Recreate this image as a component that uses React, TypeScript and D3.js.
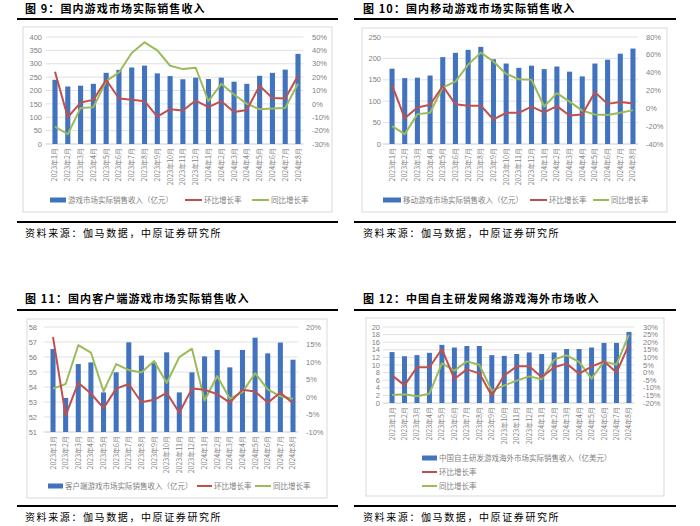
import React from 'react';
import * as d3 from 'd3';

const months = [
  '2023年1月', '2023年2月', '2023年3月', '2023年4月', '2023年5月', '2023年6月', '2023年7月',
  '2023年8月', '2023年9月', '2023年10月', '2023年11月', '2023年12月', '2024年1月', '2024年2月',
  '2024年3月', '2024年4月', '2024年5月', '2024年6月', '2024年7月', '2024年8月'
];

// 图9 国内游戏市场
const totalRevenue = [240, 215, 218, 225, 266, 277, 286, 293, 264, 254, 242, 248, 243, 248, 233, 225, 255, 266, 278, 337];
const totalMoM = [24, -10, 1, 3, 18, 4, 3, 2, -9.5, -4, -5, 2.5, -2.5, 2, -6, -4.5, 13.5, 4.3, 4, 21];
const totalYoY = [-17, -22.7, -3, -2.5, 17, 23.5, 38, 46, 40, 28.5, 26, 27, 2, 15, 7, 0, -4, -3.5, -3, 15];

// 图10 移动游戏
const mobileRevenue = [176, 154, 155, 160, 203, 213, 220, 227, 198, 188, 178, 183, 175, 181, 169, 158, 188, 197, 211, 223];
const mobileMoM = [26, -11, 1, 4, 25, 4.5, 3, 3, -12.5, -5, -5, 2, -4.5, 2.5, -8, -7, 18, 5, 7, 5.5];
const mobileYoY = [-20, -29, -6.5, -5, 23.6, 30, 49, 62.5, 52.5, 38.6, 32.6, 32, 2, 17, 7.5, -2.6, -7, -7.5, -5, -2];

// 图11 客户端游戏
const clientRevenue = [56.53, 53.27, 55.53, 55.64, 53.64, 54.98, 56.98, 56.09, 55.64, 56.31, 53.64, 54.98, 56.04, 56.47, 55.31, 56.47, 57.29, 56.24, 56.96, 55.82];
const clientMoM = [17.1, -5.3, 4.1, 1, -3.2, 2.4, 3.7, -1.5, -0.8, 1.2, -4.5, 2.4, 2.1, 0.8, -1.6, 2.1, 1.6, -1.6, 1.2, -1.8];
const clientYoY = [2.4, 3.7, 14.8, 12.7, 1.6, 9.4, 7.7, 7, 10.3, 4, 11.4, 13.8, -1, 6, -0.5, 1.4, 6.8, 2.2, 0.2, -0.5];

// 图12 自主研发海外
const overseasRevenue = [13.4, 12.3, 12.6, 13.2, 15.3, 14.6, 15.0, 15.0, 12.6, 12.4, 12.9, 13.3, 12.9, 13.3, 14.2, 14.2, 14.6, 15.8, 15.8, 18.7];
const overseasMoM = [-1.8, -8.4, 3.5, 3.5, 15.5, -4.2, 2.1, -0.5, -15.2, -1.8, 4.1, 4.1, -3.1, 3.5, 5.9, -0.7, 3.9, 7.4, 0, 18.4];
const overseasYoY = [-14.7, -14.3, -15.6, -13.9, 6.1, 1.3, 7.4, 5.2, -11.9, -8.4, -5.3, -2.5, -4.4, 8.5, 11.4, 7, -4, 7.4, 5.2, 25];

const BLUE = '#4173bf';
const RED = '#c0504d';
const GREEN = '#9bbb59';
const GRID = '#d9d9d9';
const TICK = '#7f7f7f';
const CJK = '"Noto Sans CJK SC", "Noto Sans", sans-serif';

type LegendItem = { kind: 'rect' | 'line'; color: string; x1: number; x2: number; y: number; label: string };

type PanelProps = {
  title: string;
  titleX: number;
  titleY: number;
  ruleX: [number, number];
  ruleTopY: number;
  ruleBottomY: number;
  sourceY: number;
  box: { x: number; y: number; w: number; h: number };
  plot: { left: number; right: number; top: number; bottom: number };
  leftLabelX: number;
  rightLabelX: number;
  leftDomain: [number, number];
  leftStep: number;
  rightDomain: [number, number];
  rightStep: number;
  bars: number[];
  mom: number[];
  yoy: number[];
  legend: LegendItem[];
};

const Panel: React.FC<PanelProps> = (p) => {
  const x = d3.scaleBand<string>().domain(months).range([p.plot.left, p.plot.right]).paddingInner(0.6).paddingOuter(0.3);
  const yL = d3.scaleLinear().domain(p.leftDomain).range([p.plot.bottom, p.plot.top]);
  const yR = d3.scaleLinear().domain(p.rightDomain).range([p.plot.bottom, p.plot.top]);
  const leftTicks = d3.range(p.leftDomain[0], p.leftDomain[1] + p.leftStep / 2, p.leftStep);
  const rightTicks = d3.range(p.rightDomain[0], p.rightDomain[1] + p.rightStep / 2, p.rightStep);
  const cx = (m: string) => (x(m) ?? 0) + x.bandwidth() / 2;
  const line = d3.line<number>().x((_, i) => cx(months[i])).y((d) => yR(d));
  const gridLeft = p.plot.left - 3;
  const gridRight = p.plot.right - 1;

  return (
    <g>
      <text x={p.titleX} y={p.titleY} fontFamily={CJK} fontWeight={700} fontSize={11} letterSpacing={1.1} fill="#000">{p.title}</text>
      <line x1={p.ruleX[0]} x2={p.ruleX[1]} y1={p.ruleTopY} y2={p.ruleTopY} stroke="#000" strokeWidth={2} />
      <rect x={p.box.x} y={p.box.y} width={p.box.w} height={p.box.h} fill="#fff" stroke={GRID} strokeWidth={1} />
      {leftTicks.map((t) => (
        <g key={'l' + t}>
          <line x1={gridLeft} x2={gridRight} y1={yL(t)} y2={yL(t)} stroke={t === p.leftDomain[0] ? '#bfbfbf' : GRID} strokeWidth={0.8} />
          <text x={p.leftLabelX} y={yL(t)} dy="0.35em" textAnchor="end" fontFamily='"Liberation Sans", sans-serif' fontSize={7.5} fill={TICK}>{t}</text>
        </g>
      ))}
      {rightTicks.map((t) => (
        <text key={'r' + t} x={p.rightLabelX} y={yR(t)} dy="0.35em" fontFamily='"Liberation Sans", sans-serif' fontSize={7.5} fill={TICK}>{t + '%'}</text>
      ))}
      {p.bars.map((v, i) => (
        <rect key={'b' + i} x={x(months[i])} y={yL(v)} width={x.bandwidth()} height={p.plot.bottom - yL(v)} fill={BLUE} />
      ))}
      <path d={line(p.yoy) ?? ''} fill="none" stroke={GREEN} strokeWidth={2} strokeLinejoin="round" />
      <path d={line(p.mom) ?? ''} fill="none" stroke={RED} strokeWidth={2} strokeLinejoin="round" />
      {months.map((m) => (
        <text key={m} transform={`translate(${cx(m) + 2.5},${p.plot.bottom + 4}) rotate(-90)`} textAnchor="end" fontFamily={CJK} fontSize={7} fill={TICK}>{m}</text>
      ))}
      {p.legend.map((l) => (
        <g key={l.label}>
          {l.kind === 'rect'
            ? <rect x={l.x1} y={l.y - 2.5} width={l.x2 - l.x1} height={5} fill={l.color} />
            : <line x1={l.x1} x2={l.x2} y1={l.y} y2={l.y} stroke={l.color} strokeWidth={2} />}
          <text x={l.x2 + 2} y={l.y} dy="0.35em" fontFamily={CJK} fontSize={7.5} fill={TICK}>{l.label}</text>
        </g>
      ))}
      <line x1={p.ruleX[0]} x2={p.ruleX[1]} y1={p.ruleBottomY} y2={p.ruleBottomY} stroke="#000" strokeWidth={2} />
      <text x={p.titleX} y={p.sourceY} fontFamily={CJK} fontSize={10} letterSpacing={1.6} fill="#000">资料来源：伽马数据，中原证券研究所</text>
    </g>
  );
};

const legendLabels = ['环比增长率', '同比增长率'];

export default function App() {
  return (
    <div style={{ position: 'absolute', left: 0, top: 0 }}>
      <svg width={700} height={526} style={{ display: 'block', background: '#fff' }}>
        <Panel
          title="图 9：国内游戏市场实际销售收入"
          titleX={25} titleY={12.5} ruleX={[17, 338]} ruleTopY={19} ruleBottomY={222} sourceY={237}
          box={{ x: 23, y: 27, w: 309, h: 185 }}
          plot={{ left: 48.6, right: 304.4, top: 37, bottom: 144 }}
          leftLabelX={42} rightLabelX={312}
          leftDomain={[0, 400]} leftStep={50} rightDomain={[-30, 50]} rightStep={10}
          bars={totalRevenue} mom={totalMoM} yoy={totalYoY}
          legend={[
            { kind: 'rect', color: BLUE, x1: 50, x2: 66, y: 200, label: '游戏市场实际销售收入（亿元）' },
            { kind: 'line', color: RED, x1: 185, x2: 202, y: 200, label: legendLabels[0] },
            { kind: 'line', color: GREEN, x1: 252, x2: 269, y: 200, label: legendLabels[1] }
          ]}
        />
        <Panel
          title="图 10：国内移动游戏市场实际销售收入"
          titleX={363} titleY={12.5} ruleX={[354, 676]} ruleTopY={19} ruleBottomY={222} sourceY={237}
          box={{ x: 362, y: 28, w: 305, h: 184 }}
          plot={{ left: 385.7, right: 639.3, top: 37, bottom: 144 }}
          leftLabelX={381} rightLabelX={646}
          leftDomain={[0, 250]} leftStep={50} rightDomain={[-40, 80]} rightStep={20}
          bars={mobileRevenue} mom={mobileMoM} yoy={mobileYoY}
          legend={[
            { kind: 'rect', color: BLUE, x1: 383, x2: 401, y: 200, label: '移动游戏市场实际销售收入（亿元）' },
            { kind: 'line', color: RED, x1: 530, x2: 547, y: 200, label: legendLabels[0] },
            { kind: 'line', color: GREEN, x1: 593, x2: 609, y: 200, label: legendLabels[1] }
          ]}
        />
        <Panel
          title="图 11：国内客户端游戏市场实际销售收入"
          titleX={25} titleY={302.5} ruleX={[17, 338]} ruleTopY={310} ruleBottomY={506} sourceY={521}
          box={{ x: 27, y: 319, w: 300, h: 179 }}
          plot={{ left: 46.7, right: 299.3, top: 327, bottom: 432 }}
          leftLabelX={37} rightLabelX={306}
          leftDomain={[51, 58]} leftStep={1} rightDomain={[-10, 20]} rightStep={5}
          bars={clientRevenue} mom={clientMoM} yoy={clientYoY}
          legend={[
            { kind: 'rect', color: BLUE, x1: 48, x2: 63, y: 486, label: '客户端游戏市场实际销售收入（亿元）' },
            { kind: 'line', color: RED, x1: 197, x2: 212, y: 486, label: legendLabels[0] },
            { kind: 'line', color: GREEN, x1: 255, x2: 271, y: 486, label: legendLabels[1] }
          ]}
        />
        <Panel
          title="图 12：中国自主研发网络游戏海外市场收入"
          titleX={363} titleY={302.5} ruleX={[354, 676]} ruleTopY={310} ruleBottomY={506} sourceY={521}
          box={{ x: 366, y: 318, w: 298, h: 178 }}
          plot={{ left: 385.8, right: 635.2, top: 327, bottom: 403 }}
          leftLabelX={380} rightLabelX={643}
          leftDomain={[0, 20]} leftStep={2} rightDomain={[-20, 30]} rightStep={5}
          bars={overseasRevenue} mom={overseasMoM} yoy={overseasYoY}
          legend={[
            { kind: 'rect', color: BLUE, x1: 422, x2: 437, y: 458, label: '中国自主研发游戏海外市场实际销售收入（亿美元）' },
            { kind: 'line', color: RED, x1: 422, x2: 437, y: 472, label: legendLabels[0] },
            { kind: 'line', color: GREEN, x1: 422, x2: 437, y: 486, label: legendLabels[1] }
          ]}
        />
      </svg>
    </div>
  );
}
